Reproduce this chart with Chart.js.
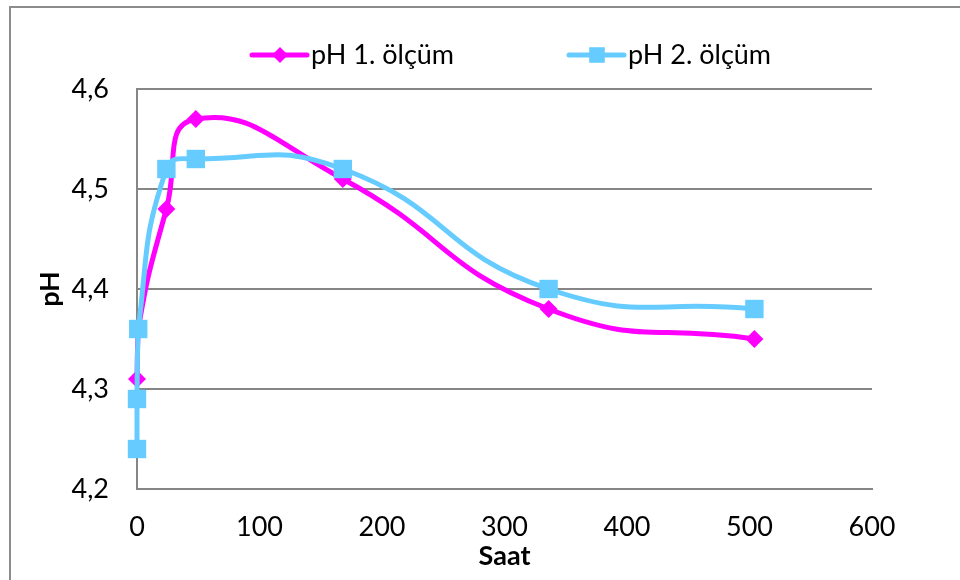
<!DOCTYPE html>
<html>
<head>
<meta charset="utf-8">
<title>pH ölçümleri</title>
<script src="https://cdn.jsdelivr.net/npm/chart.js@4.4.0/dist/chart.umd.min.js"></script>
<style>
  html, body { margin: 0; padding: 0; background: #fff; overflow: hidden; }
  #wrap { position: relative; width: 960px; height: 580px; }
  #frame { position: absolute; left: 9px; top: 6px; width: 1000px; height: 700px; border: 2px solid #8c8c8c; }
  #phChart { position: absolute; left: 0; top: 0; }
</style>
</head>
<body>
<div id="wrap">
  <div id="frame"></div>
  <canvas id="phChart" width="960" height="580"></canvas>
</div>
<script>
// ölçüm saatleri ve pH değerleri
var saat1 = [0, 1, 24, 48, 168, 336, 504];
var ph1 = [4.31, 4.36, 4.48, 4.57, 4.51, 4.38, 4.35];
var saat2 = [0, 0, 1, 24, 48, 168, 336, 504];
var ph2 = [4.24, 4.29, 4.36, 4.52, 4.53, 4.52, 4.40, 4.38];
var seriesNames = ['pH 1. ölçüm', 'pH 2. ölçüm'];
var yTicks = [4.2, 4.3, 4.4, 4.5, 4.6];

var FONT = 'Lato, "Open Sans", sans-serif';
var FSIZE = 27;
var MAGENTA = '#ff00ff';
var BLUE = '#66ccff';
var GRID = '#868686';

function toPoints(xs, ys) {
    return xs.map(function (x, i) { return { x: x, y: ys[i] }; });
}

// legend drawn by hand: a short line with the marker on it, then the name
var lineLegend = {
    id: 'lineLegend',
    afterDraw: function (chart) {
        var ctx = chart.ctx;
        var items = [
            { x: 252, color: MAGENTA, style: 'rectRot', r: 8, text: seriesNames[0] },
            { x: 569, color: BLUE, style: 'rect', r: 11, text: seriesNames[1] }
        ];
        var y = 55;
        ctx.save();
        items.forEach(function (it) {
            ctx.strokeStyle = it.color;
            ctx.lineWidth = 5;
            ctx.lineCap = 'round';
            ctx.beginPath();
            ctx.moveTo(it.x, y);
            ctx.lineTo(it.x + 55, y);
            ctx.stroke();
            ctx.fillStyle = it.color;
            Chart.helpers.drawPoint(ctx, { pointStyle: it.style, radius: it.r, borderWidth: 0 }, it.x + 28, y);
            ctx.fillStyle = '#000';
            ctx.font = FSIZE + 'px ' + FONT;
            ctx.textBaseline = 'middle';
            ctx.textAlign = 'left';
            ctx.fillText(it.text, it.x + 59, y);
        });
        ctx.restore();
    }
};

var ctx = document.getElementById('phChart').getContext('2d');
var myChart = new Chart(ctx, {
    type: 'scatter',
    data: {
        datasets: [{
            label: seriesNames[1],
            data: toPoints(saat2, ph2),
            showLine: true,
            clip: false,
            borderColor: BLUE,
            backgroundColor: BLUE,
            borderWidth: 5,
            tension: 0.5,
            pointStyle: 'rect',
            pointRadius: 13,
            pointBorderWidth: 0,
            pointHoverRadius: 13
        }, {
            label: seriesNames[0],
            data: toPoints(saat1, ph1),
            showLine: true,
            clip: false,
            borderColor: MAGENTA,
            backgroundColor: MAGENTA,
            borderWidth: 5,
            tension: 0.5,
            pointStyle: 'rectRot',
            pointRadius: 9,
            pointBorderWidth: 0,
            pointHoverRadius: 9
        }]
    },
    options: {
        responsive: false,
        animation: false,
        layout: { padding: { top: 89, right: 88, bottom: 0, left: 0 } },
        plugins: {
            legend: { display: false },
            tooltip: { enabled: false }
        },
        scales: {
            x: {
                type: 'linear',
                min: 0,
                max: 600,
                ticks: { stepSize: 100, padding: 22, color: '#000', font: { family: FONT, size: FSIZE } },
                grid: { color: 'transparent', drawTicks: false },
                border: { display: true, color: GRID, width: 2 },
                title: { display: true, text: 'Saat', color: '#000', padding: { top: 0, bottom: 8 }, font: { family: FONT, size: FSIZE, weight: 'bold' } },
                afterFit: function (scale) { scale.height = 91; }
            },
            y: {
                type: 'linear',
                min: yTicks[0],
                max: yTicks[yTicks.length - 1],
                afterBuildTicks: function (scale) {
                    scale.ticks = yTicks.map(function (v) { return { value: v }; });
                },
                ticks: {
                    padding: 28,
                    color: '#000',
                    font: { family: FONT, size: FSIZE },
                    callback: function (v) { return v.toFixed(1).replace('.', ','); }
                },
                grid: { color: GRID, lineWidth: 2, drawTicks: false },
                border: { display: true, color: GRID, width: 2 },
                title: { display: true, text: 'pH', color: '#000', padding: { top: 34, bottom: 0 }, font: { family: FONT, size: FSIZE, weight: 'bold' } },
                afterFit: function (scale) { scale.width = 137; }
            }
        }
    },
    plugins: [lineLegend]
});
</script>
</body>
</html>
